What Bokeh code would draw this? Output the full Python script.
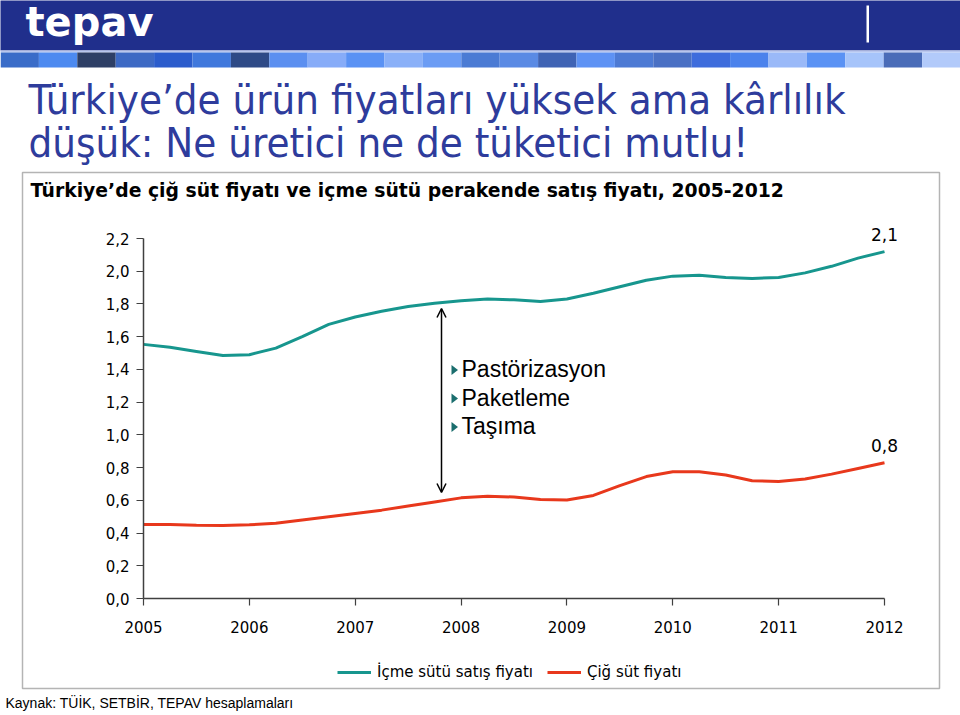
from bokeh.plotting import figure
from bokeh.models import (Range1d, FixedTicker, CustomJSTickFormatter, Label, BoxAnnotation,
                          PolyAnnotation, Arrow, OpenHead, Legend, LegendItem, LinearAxis)
from bokeh.embed import file_html
from bokeh.resources import INLINE

# ---------------- data ----------------
periods = [2005.00, 2005.25, 2005.50, 2005.75, 2006.00, 2006.25, 2006.50, 2006.75,
           2007.00, 2007.25, 2007.50, 2007.75, 2008.00, 2008.25, 2008.50, 2008.75,
           2009.00, 2009.25, 2009.50, 2009.75, 2010.00, 2010.25, 2010.50, 2010.75,
           2011.00, 2011.25, 2011.50, 2011.75, 2012.00]
icme_sutu = [1.553, 1.535, 1.510, 1.485, 1.490, 1.530, 1.600, 1.675,
             1.720, 1.755, 1.785, 1.805, 1.820, 1.830, 1.825, 1.815,
             1.830, 1.865, 1.905, 1.945, 1.970, 1.975, 1.962, 1.956,
             1.962, 1.990, 2.030, 2.080, 2.120]
cig_sut = [0.452, 0.452, 0.447, 0.446, 0.450, 0.460, 0.480, 0.500,
           0.520, 0.540, 0.565, 0.590, 0.615, 0.625, 0.620, 0.605,
           0.602, 0.630, 0.690, 0.745, 0.775, 0.775, 0.755, 0.720,
           0.715, 0.730, 0.760, 0.795, 0.830]
x_ticks = [2005, 2006, 2007, 2008, 2009, 2010, 2011, 2012]
y_ticks = [0.0, 0.2, 0.4, 0.6, 0.8, 1.0, 1.2, 1.4, 1.6, 1.8, 2.0, 2.2]
series_names = ["İçme sütü satış fiyatı", "Çiğ süt fiyatı"]
logo_text = "tepav"
slide_title = ["Türkiye’de ürün fiyatları yüksek ama kârlılık",
               "düşük: Ne üretici ne de tüketici mutlu!"]
chart_title = "Türkiye’de çiğ süt fiyatı ve içme sütü perakende satış fiyatı, 2005-2012"
cost_items = ["Pastörizasyon", "Paketleme", "Taşıma"]
source_note = "Kaynak: TÜİK, SETBİR, TEPAV hesaplamaları"

# ---------------- styles / layout ----------------
TEAL = "#17968e"
RED = "#e8381c"
NAVY = "#202f8c"
TITLE_BLUE = "#2e3c9c"
header_colors = ["#3a6cc8", "#4d8af0", "#2e3f66", "#3d69c4", "#2b5ccc", "#4078dc", "#2e4a86",
                 "#5b8ff0", "#87acf8", "#5a92f4", "#8ab0f8", "#6b9cf4", "#4b7bd4", "#5a8ae4",
                 "#3f63b4", "#5e92f4", "#4d7ad4", "#4a70c4", "#3e6cdc", "#4b82ec", "#9ab9f8",
                 "#5a92f4", "#a6c4fa", "#4a6cb8", "#b2cafa"]

W, H = 960, 715
# pixel anchors of the plot area on the canvas
PX_L, PX_R = 143, 884      # x = first / last tick
PY_B, PY_T = 598, 238      # y = first / last tick
x0, x1 = x_ticks[0], x_ticks[-1]
y0, y1 = y_ticks[0], y_ticks[-1]
kx = (x1 - x0) / (PX_R - PX_L)
ky = (y1 - y0) / (PY_B - PY_T)
x_range = Range1d(x0 - PX_L * kx, x1 + (W - PX_R) * kx)
y_range = Range1d(y0 - (H - PY_B) * ky, y1 + PY_T * ky)

BASE_FIX = 0.37   # label baseline correction (fraction of font size)


def sx(px):
    return px


def sy(py):
    return H - py


p = figure(width=W, height=H, x_range=x_range, y_range=y_range,
           x_axis_type=None, y_axis_type=None,
           output_backend="svg", toolbar_location=None,
           min_border=0, min_border_left=0, min_border_right=0,
           min_border_top=0, min_border_bottom=0)
p.outline_line_color = None
p.background_fill_color = "white"
p.border_fill_color = "white"

xaxis = LinearAxis(fixed_location=y0, bounds=(x0, x1), ticker=FixedTicker(ticks=x_ticks),
                   formatter=CustomJSTickFormatter(code="return tick.toFixed(0)"))
yaxis = LinearAxis(fixed_location=x0, bounds=(y0, y1), ticker=FixedTicker(ticks=y_ticks),
                   formatter=CustomJSTickFormatter(code="return tick.toFixed(1).replace('.', ',')"))
for ax in (xaxis, yaxis):
    ax.axis_line_color = "#404040"
    ax.axis_line_width = 1.5
    ax.major_tick_line_color = "#404040"
    ax.major_tick_line_width = 1.2
    ax.major_tick_in = 0
    ax.major_tick_out = 7
    ax.minor_tick_line_color = None
    ax.major_label_text_font = "DejaVu Sans"
    ax.major_label_text_font_size = "15px"
    ax.major_label_text_color = "black"
xaxis.major_label_standoff = 15
yaxis.major_label_standoff = 7
p.add_layout(xaxis, "below")
p.add_layout(yaxis, "left")

r1 = p.line(periods, icme_sutu, line_color=TEAL, line_width=3, line_join="round")
r2 = p.line(periods, cig_sut, line_color=RED, line_width=3, line_join="round")


def box(left, right, top, bottom, fill=None, line=None, lw=1.0):
    b = BoxAnnotation(left=sx(left), right=sx(right), top=sy(top), bottom=sy(bottom),
                      left_units="screen", right_units="screen",
                      top_units="screen", bottom_units="screen",
                      fill_color=fill if fill else "white", fill_alpha=1.0 if fill else 0.0,
                      line_color=line if line else "white", line_alpha=1.0 if line else 0.0,
                      line_width=lw, level="underlay")
    p.add_layout(b)


def label(text, x, y, size, font, color="black", style="normal", align="left"):
    p.add_layout(Label(x=sx(x), y=sy(y - BASE_FIX * size), x_units="screen", y_units="screen",
                       text=text, text_font=font, text_font_size=f"{size}px",
                       text_color=color, text_font_style=style, text_align=align,
                       text_baseline="alphabetic"))


# header
box(-20, 980, -20, 50, fill=NAVY)
box(-20, 980, 50, 52, fill="#b8c6ee")
for i, c in enumerate(header_colors):
    box(i * 38.4, (i + 1) * 38.4, 52, 67, fill=c)
box(866, 868.5, 5, 42, fill="white")
label(logo_text, 25, 36, 40, "DejaVu Sans", color="white", style="bold")

# slide title
label(slide_title[0], 28, 114, 41.6, "DejaVu Sans Condensed", color=TITLE_BLUE)
label(slide_title[1], 28, 157, 41.6, "DejaVu Sans Condensed", color=TITLE_BLUE)

# chart box + chart title
box(22, 939, 172, 688, line="#b4b4b4", lw=1.5)
label(chart_title, 30, 197, 18.8, "DejaVu Sans", style="bold")

# annotation: double arrow and cost items
p.add_layout(Arrow(x_start=sx(441), y_start=sy(308), x_end=sx(441), y_end=sy(492),
                   start_units="screen", end_units="screen",
                   start=OpenHead(size=9, line_width=1.5, line_color="black"),
                   end=OpenHead(size=9, line_width=1.5, line_color="black"),
                   line_width=1.5, line_color="black"))
for name, cy in zip(cost_items, [369.5, 398, 426.5]):
    p.add_layout(PolyAnnotation(xs=[sx(451), sx(451), sx(457.5)],
                                ys=[sy(cy - 5), sy(cy + 5), sy(cy)],
                                xs_units="screen", ys_units="screen",
                                fill_color="#1b6e6e", fill_alpha=1.0, line_alpha=0.0))
    label(name, 461, cy + 8, 23, "Liberation Sans")

# end-of-line value labels
for vals in (icme_sutu, cig_sut):
    p.add_layout(Label(x=periods[-1], y=vals[-1], y_offset=11 + BASE_FIX * 17,
                       text=f"{vals[-1]:.1f}".replace(".", ","),
                       text_font="DejaVu Sans", text_font_size="17px", text_color="black",
                       text_align="center", text_baseline="alphabetic"))

# legend
legend = Legend(items=[LegendItem(label=series_names[0], renderers=[r1]),
                       LegendItem(label=series_names[1], renderers=[r2])],
                location=(sx(337), sy(682)), orientation="horizontal",
                glyph_width=34, glyph_height=20, label_height=20, label_standoff=6,
                spacing=14, padding=0, margin=0,
                border_line_color=None, background_fill_alpha=0.0,
                label_text_font="DejaVu Sans", label_text_font_size="15px",
                label_text_color="black")
p.add_layout(legend)

# source note
label(source_note, 5, 708, 14, "Liberation Sans")

with open("out.html", "w", encoding="utf-8") as f:
    f.write(file_html(p, INLINE, title="tepav"))
